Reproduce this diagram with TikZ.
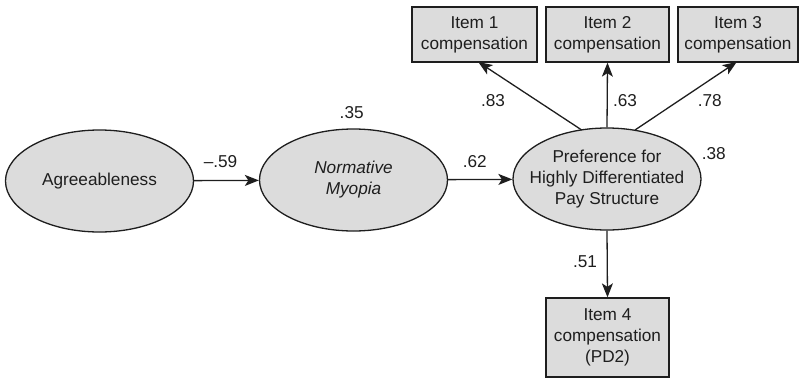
\documentclass[tikz,border=0pt]{standalone}
\usepackage{fontspec}
\setmainfont{Liberation Sans}
\usetikzlibrary{shapes.geometric,arrows.meta}
\definecolor{boxfill}{RGB}{220,220,220}
\definecolor{ink}{RGB}{30,30,30}
\tikzset{
  latent/.style={ellipse, draw=ink, line width=1.3pt, fill=boxfill, minimum width=188pt, minimum height=102pt, inner sep=0pt},
  lbl/.style={align=center, text=ink, inner sep=0pt, font=\fontsize{17.2}{21}\selectfont},
  item/.style={rectangle, draw=ink, line width=1.3pt, fill=boxfill, inner sep=0pt, align=center, text=ink, font=\fontsize{17.2}{21}\selectfont},
  coef/.style={text=ink, font=\fontsize{17.2}{21}\selectfont, inner sep=0pt},
  path/.style={draw=ink, line width=1.3pt, -{Stealth[length=14pt,width=11pt,inset=3.5pt]}}
}
\begin{document}
\begin{tikzpicture}[x=1pt,y=-1pt]
\useasboundingbox (0,0) rectangle (800,378);
\node[latent] (agr) at (99.5,181) {};
\node[lbl] (agrt) at (agr.center) {Agreeableness};
\node[latent] (nm) at (353.5,180) {};
\node[lbl] (nmt) at (nm.center) {\itshape Normative\\\itshape Myopia};
\node[latent] (pref) at (607,179) {};
\node[lbl] (preft) at (pref.center) {Preference for\\Highly Differentiated\\Pay Structure};
\node[item, minimum width=125pt, minimum height=55pt] (i1) at (474.5,34.5) {Item 1\\compensation};
\node[item, minimum width=123pt, minimum height=55pt] (i2) at (607.5,34.5) {Item 2\\compensation};
\node[item, minimum width=120pt, minimum height=55pt] (i3) at (738,34.5) {Item 3\\compensation};
\node[item, minimum width=123pt, minimum height=79pt] (i4) at (607.5,337.5) {Item 4\\compensation\\(PD2)};
\coordinate (pt1) at (581.7,130);
\coordinate (pt3) at (635,130);
\coordinate (e1) at (478.3,62);
\coordinate (e3) at (736.7,62);
\draw[path] (agr) -- (nm);
\draw[path] (nm) -- (pref);
\draw[path] (pt1) -- (e1);
\draw[path] (pref.north) -- (i2.south);
\draw[path] (pt3) -- (e3);
\draw[path] (pref.south) -- (i4.north);
\node[coef] (c59) at (220.5,161.7) {–.59};
\node[coef] (c35) at (351.7,112.5) {.35};
\node[coef] (c62) at (474.7,161.7) {.62};
\node[coef] (c83) at (493,101) {.83};
\node[coef] (c63) at (625,101) {.63};
\node[coef] (c78) at (709.7,101) {.78};
\node[coef] (c38) at (713.7,154) {.38};
\node[coef] (c51) at (585,261.5) {.51};
\end{tikzpicture}
\end{document}
